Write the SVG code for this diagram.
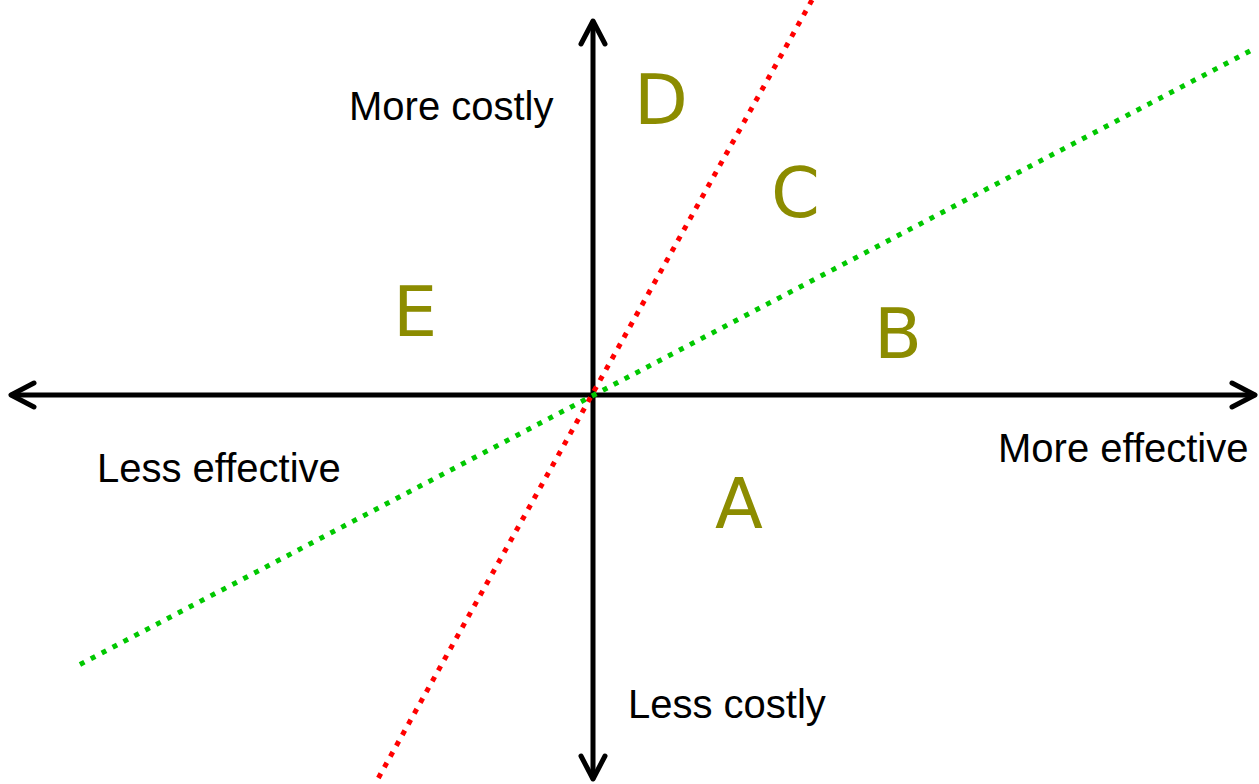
<svg xmlns="http://www.w3.org/2000/svg" width="1259" height="784" viewBox="0 0 1259 784">
<style>
.ax{stroke:#000;stroke-width:5;fill:none;stroke-linecap:round;stroke-linejoin:round}
.lbl{font-family:"Liberation Sans",Arial,sans-serif;font-size:40px;fill:#000}
.reg{font-family:"DejaVu Sans",sans-serif;font-size:70px;fill:#8c8c00}
.dot{stroke-width:5;fill:none;stroke-dasharray:5 7.3}
</style>
<rect width="1259" height="784" fill="#fff"/>
<g id="connectors">
<g id="axes">
<path class="ax" d="M593,22 V778"/>
<path class="ax" d="M581,44 L593,21 L605,44"/>
<path class="ax" d="M581,756 L593,779 L605,756"/>
<path class="ax" d="M12,395 H1254"/>
<path class="ax" d="M34,383 L11,395 L34,407"/>
<path class="ax" d="M1232,383 L1255,395 L1232,407"/>
</g>
<line class="dot" x1="812" y1="0" x2="375" y2="784" stroke="#ff0000"/>
<line class="dot" x1="1250" y1="51" x2="77" y2="666" stroke="#00c800"/>
</g>
<g id="labels">
<text class="lbl" x="349" y="120">More costly</text>
<text class="lbl" x="628" y="718">Less costly</text>
<text class="lbl" x="97" y="482">Less effective</text>
<text class="lbl" x="998" y="462">More effective</text>
</g>
<g id="regionA"><text class="reg" x="715" y="528">A</text></g>
<g id="regionB"><text class="reg" x="874" y="358">B</text></g>
<g id="regionC"><text class="reg" x="771" y="217">C</text></g>
<g id="regionD"><text class="reg" x="634" y="124">D</text></g>
<g id="regionE"><text class="reg" x="393" y="336">E</text></g>
</svg>
